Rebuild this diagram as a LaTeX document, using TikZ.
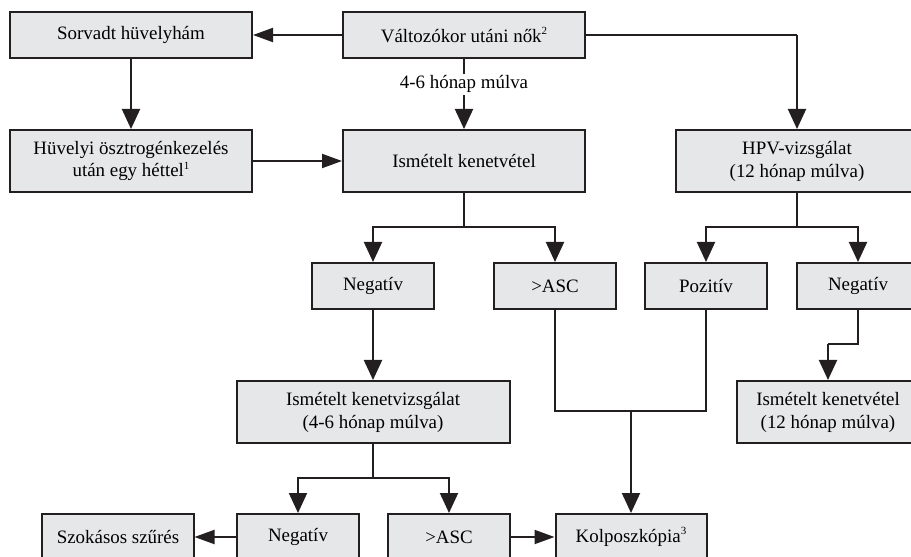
\documentclass[tikz,border=0pt]{standalone}
\usepackage{fontspec}
\setmainfont{Liberation Serif}
\usetikzlibrary{arrows.meta}
\definecolor{boxgray}{RGB}{230,231,232}
\definecolor{linegray}{RGB}{35,31,32}
\newcommand{\smallsup}[1]{\raisebox{0.42em}{\fontsize{11}{11}\selectfont #1}}
\begin{document}
\begin{tikzpicture}[x=1bp,y=-1bp,
  box/.style={draw=linegray, fill=boxgray, line width=2bp, inner sep=0pt,
    align=center, font=\fontsize{19}{23}\selectfont},
  one/.style={minimum height=46bp},
  two/.style={minimum height=62bp},
  conn/.style={draw=linegray, line width=2bp},
  varr/.style={conn, -{Triangle[length=20bp,width=18bp]}},
  harr/.style={conn, -{Triangle[length=20bp,width=14bp]}},
  lbl/.style={fill=white, inner sep=2bp, font=\fontsize{19}{23}\selectfont}]
\useasboundingbox (0,0) rectangle (911,557);
\clip (0,0) rectangle (911,557);
% top row
\node[box, one, minimum width=242bp] (sorv) at (131,35) {Sorvadt hüvelyhám};
\node[box, one, minimum width=242bp] (valt) at (464,35) {Változókor utáni nők\smallsup{2}};
% second row
\node[box, two, minimum width=242bp] (huv) at (131,161) {Hüvelyi ösztrogénkezelés\\után egy héttel\smallsup{1}};
\node[box, two, minimum width=242bp] (ism) at (464,161) {Ismételt kenetvétel};
\node[box, two, minimum width=242bp] (hpv) at (797,161) {HPV-vizsgálat\\(12 hónap múlva)};
% third row
\node[box, one, minimum width=122bp] (neg1) at (373,286) {Negatív};
\node[box, one, minimum width=122bp] (asc1) at (555,286) {>ASC};
\node[box, one, minimum width=122bp] (poz) at (706,286) {Pozitív};
\node[box, one, minimum width=122bp] (neg2) at (858,286) {Negatív};
% fourth row
\node[box, two, minimum width=273bp] (ikv) at (373,412) {Ismételt kenetvizsgálat\\(4-6 hónap múlva)};
\node[box, two, minimum width=182bp] (ik12) at (828,412) {Ismételt kenetvétel\\(12 hónap múlva)};
% bottom row
\node[box, one, minimum width=151bp] (szok) at (118,537) {Szokásos szűrés};
\node[box, one, minimum width=122bp] (neg3) at (298,537) {Negatív};
\node[box, one, minimum width=122bp] (asc2) at (449,537) {>ASC};
\node[box, one, minimum width=151bp] (kolp) at (631,537) {Kolposzkópia\smallsup{3}};
% branch points
\coordinate (hp) at (797,35);
\coordinate (b1) at (464,227);
\coordinate (b2) at (797,227);
\coordinate (b3) at (373,478);
\coordinate (m1) at (555,411);
\coordinate (m2) at (706,411);
\coordinate (m3) at (631,411);
\coordinate (s1) at (858,344);
\coordinate (s2) at (828,344);
% connectors
\draw[harr] (valt.west) -- (sorv.east);
\draw[varr] (sorv.south) -- (huv.north);
\draw[harr] (huv.east) -- (ism.west);
\draw[varr] (valt.south) -- node[lbl, pos=0.36] {4-6 hónap múlva} (ism.north);
\draw[conn] (valt.east) -- (hp);
\draw[varr] (hp) -- (hpv.north);
\draw[conn] (ism.south) -- (b1);
\draw[varr] (b1) -| (neg1.north);
\draw[varr] (b1) -| (asc1.north);
\draw[conn] (hpv.south) -- (b2);
\draw[varr] (b2) -| (poz.north);
\draw[varr] (b2) -| (neg2.north);
\draw[varr] (neg1.south) -- (ikv.north);
\draw[conn] (ikv.south) -- (b3);
\draw[varr] (b3) -| (neg3.north);
\draw[varr] (b3) -| (asc2.north);
\draw[harr] (neg3.west) -- (szok.east);
\draw[harr] (asc2.east) -- (kolp.west);
\draw[conn] (asc1.south) -- (m1) -- (m2) -- (poz.south);
\draw[varr] (m3) -- (kolp.north);
\draw[conn] (neg2.south) -- (s1) -- (s2);
\draw[varr] (s2) -- (ik12.north);
\end{tikzpicture}
\end{document}
